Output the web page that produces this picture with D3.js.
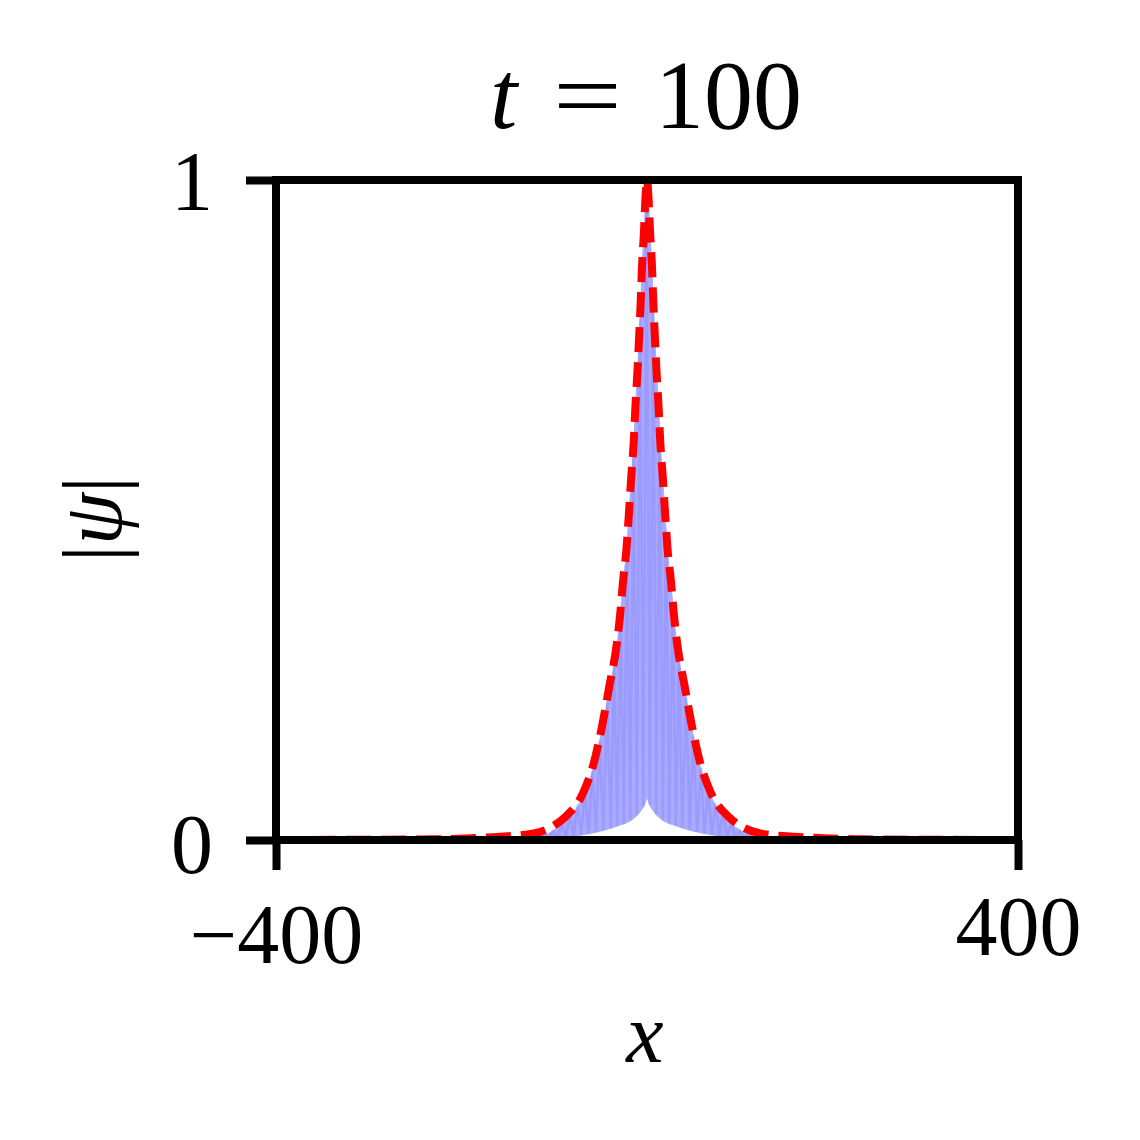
<!DOCTYPE html>
<html>
<head>
<meta charset="utf-8">
<script src="https://cdn.jsdelivr.net/npm/d3@7"></script>
<style>
  html, body { margin: 0; padding: 0; background: #fff; }
  svg { display: block; }
  text { font-family: "Liberation Serif", "DejaVu Serif", serif; fill: #000; }
</style>
</head>
<body>
<svg id="chart" width="1140" height="1140"></svg>
<script>
// ---- data ----
const titleText = ["t", "=", "100"];
const xTicks = [-400, 400];
const yTicks = [0, 1];
const xDomain = [-400, 400];
const yDomain = [0, 1];

// sample positions along x
const xs = [-400, -230, -186, -158, -122, -100, -88, -69, -57.5, -48.5, -41, -32.3, -28.8, -25.9, -22.1, -19.4, -17, -14.3, -12.5, -10.2, -8.4, -6.8, -5.4, -3.2, -1.6, 0,
            1.6, 3.2, 5.4, 6.8, 8.4, 10.2, 12.5, 14.3, 17, 19.4, 22.1, 25.9, 28.8, 32.3, 41, 48.5, 57.5, 69, 88, 100, 122, 158, 186, 230, 400];

// red dashed envelope |psi|
const envelope = [0, 0.001, 0.003, 0.005, 0.010, 0.022, 0.035, 0.071, 0.116, 0.172, 0.23, 0.30, 0.344, 0.391, 0.442, 0.497, 0.55, 0.603, 0.656, 0.712, 0.765, 0.815, 0.868, 0.924, 0.974, 1.0,
                  0.974, 0.924, 0.868, 0.815, 0.765, 0.712, 0.656, 0.603, 0.55, 0.497, 0.442, 0.391, 0.344, 0.30, 0.23, 0.172, 0.116, 0.071, 0.035, 0.022, 0.010, 0.005, 0.003, 0.001, 0];

// blue numerical solution: upper and lower extent of the fast oscillation
const psiUpper = [0, 0, 0, 0, 0.004, 0.015, 0.029, 0.066, 0.111, 0.167, 0.225, 0.295, 0.339, 0.387, 0.438, 0.493, 0.546, 0.6, 0.653, 0.709, 0.762, 0.812, 0.864, 0.918, 0.965, 0.99,
                  0.965, 0.918, 0.864, 0.812, 0.762, 0.709, 0.653, 0.6, 0.546, 0.493, 0.438, 0.387, 0.339, 0.295, 0.225, 0.167, 0.111, 0.066, 0.029, 0.015, 0.004, 0, 0, 0, 0];
const psiLower = [0, 0, 0, 0, 0.0005, 0.002, 0.004, 0.008, 0.011, 0.014, 0.017, 0.021, 0.023, 0.024, 0.026, 0.028, 0.030, 0.033, 0.035, 0.038, 0.041, 0.044, 0.047, 0.052, 0.058, 0.064,
                  0.058, 0.052, 0.047, 0.044, 0.041, 0.038, 0.035, 0.033, 0.030, 0.028, 0.026, 0.024, 0.023, 0.021, 0.017, 0.014, 0.011, 0.008, 0.004, 0.002, 0.0005, 0, 0, 0, 0];

// turning points of the oscillation (alternating crest / trough)
const oscX = [-116, -111, -106, -101, -96.5, -92, -87.5, -83, -79, -75, -71, -67, -63, -59, -55, -51, -47, -43, -39, -35.5, -32, -28.5, -25, -21.5, -18, -14.5, -11, -7.5, -4, -0.5,
              3, 6.5, 10, 13.5, 17, 20.5, 24, 27.5, 31, 34.5, 38, 42, 46, 50, 54, 58, 62, 66, 70, 74, 78, 82, 86.5, 91, 95.5, 100, 105, 110, 115];

// ---- drawing ----
const svg = d3.select("#chart");
const x = d3.scaleLinear().domain(xDomain).range([276, 1018]);
const y = d3.scaleLinear().domain(yDomain).range([840, 180]);

const pts = xs.map((v, i) => ({x: v, env: envelope[i], up: psiUpper[i], lo: psiLower[i]}));
const upperAt = d3.scaleLinear().domain(xs).range(psiUpper);
const lowerAt = d3.scaleLinear().domain(xs).range(psiLower);

// blue fill
const area = d3.area()
  .x(d => x(d.x))
  .y0(d => y(d.lo))
  .y1(d => y(d.up))
  .curve(d3.curveMonotoneX);
svg.append("path")
  .datum(pts.filter(d => Math.abs(d.x) < 160))
  .attr("d", area)
  .attr("fill", "rgb(170,170,255)")
  .attr("stroke", "rgb(170,170,255)")
  .attr("stroke-width", 1);

// oscillation zigzag (darker overlapping strokes)
const zig = oscX.map((v, i) => ({x: v, v: i % 2 === 0 ? lowerAt(v) : upperAt(v)}));
svg.append("path")
  .datum(zig)
  .attr("d", d3.line().x(d => x(d.x)).y(d => y(d.v)))
  .attr("fill", "none")
  .attr("stroke", "rgba(60,60,255,0.14)")
  .attr("stroke-width", 2.5);

// red dashed envelope
svg.append("path")
  .datum(pts)
  .attr("d", d3.line().x(d => x(d.x)).y(d => y(d.env)).curve(d3.curveMonotoneX))
  .attr("fill", "none")
  .attr("stroke", "#ff0000")
  .style("stroke-width", "8px")
  .attr("stroke-dasharray", "25,10");

// spines (frame)
const frame = svg.append("g");
const lw = 8;
frame.append("line").attr("x1", x(-400)).attr("x2", x(-400)).attr("y1", y(1) - lw/2).attr("y2", y(0) + lw/2);
frame.append("line").attr("x1", x(400)).attr("x2", x(400)).attr("y1", y(1) - lw/2).attr("y2", y(0) + lw/2);
frame.append("line").attr("x1", x(-400)).attr("x2", x(400)).attr("y1", y(1)).attr("y2", y(1));
frame.append("line").attr("x1", x(-400)).attr("x2", x(400)).attr("y1", y(0)).attr("y2", y(0));
frame.selectAll("line").attr("stroke", "#000").style("stroke-width", lw + "px");

// axes
const fmt = d => (d < 0 ? "\u2212" : "") + Math.abs(d);
const gx = svg.append("g").attr("transform", `translate(0,${y(0)})`)
  .call(d3.axisBottom(x).tickValues(xTicks).tickSize(30).tickFormat(fmt));
const gy = svg.append("g").attr("transform", `translate(${x(-400)},0)`)
  .call(d3.axisLeft(y).tickValues(yTicks).tickSize(30).tickFormat(fmt));
[gx, gy].forEach(g => {
  g.select(".domain").remove();
  g.selectAll(".tick line").attr("stroke", "#000").style("stroke-width", lw + "px");
  g.selectAll(".tick text")
    .attr("font-family", "'Liberation Serif', 'DejaVu Serif', serif")
    .attr("font-size", 84)
    .attr("fill", "#000");
});
gx.selectAll(".tick text")
  .attr("dy", null)
  .attr("y", d => d < 0 ? 123 : 115)
  .attr("text-anchor", "middle");
gy.selectAll(".tick text")
  .attr("dy", null)
  .attr("x", -63)
  .attr("y", d => d === 0 ? 32 : 29)
  .attr("text-anchor", "end");

// title
const title = svg.append("text").attr("y", 128).attr("font-size", 98);
title.append("tspan").attr("x", 490).attr("font-style", "italic").text(titleText[0]);
title.append("tspan").attr("x", 553).attr("textLength", 69).attr("lengthAdjust", "spacingAndGlyphs").text(titleText[1]);
title.append("tspan").attr("x", 655).text(titleText[2]);

// x label
svg.append("text")
  .attr("x", 645).attr("y", 1062)
  .attr("text-anchor", "middle")
  .attr("font-size", 84)
  .attr("font-style", "italic")
  .text("x");

// y label
const yl = svg.append("text")
  .attr("transform", "translate(121,519) rotate(-90)")
  .attr("text-anchor", "middle")
  .attr("font-size", 84);
yl.append("tspan").text("|");
yl.append("tspan").attr("font-style", "italic").text("\u03c8");
yl.append("tspan").text("|");
</script>
</body>
</html>
